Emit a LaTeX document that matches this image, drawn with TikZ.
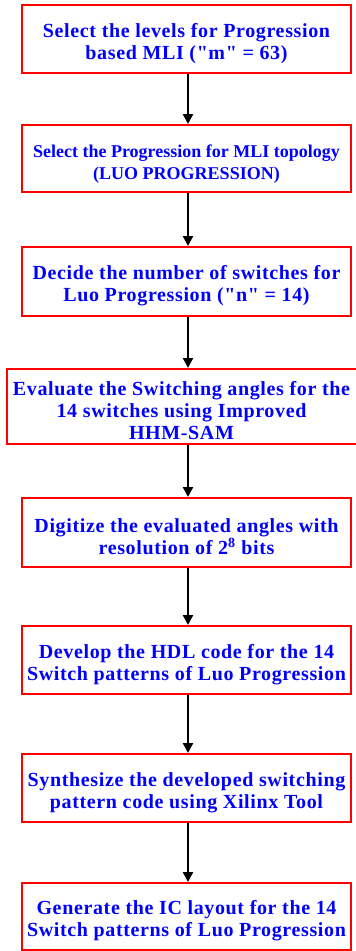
\documentclass[tikz,border=0pt]{standalone}
\usepackage{fontspec}
\setmainfont{Liberation Serif}
\newfontfamily\spfont[LetterSpace=3.2]{Liberation Serif}
\usetikzlibrary{arrows.meta}
\definecolor{boxred}{RGB}{255,0,0}
\definecolor{txtblue}{RGB}{0,0,255}
\newcommand\topstrut{\rule{0pt}{23pt}}
\begin{document}
\begin{tikzpicture}[x=1pt,y=-1pt,
  stepbox/.style={draw=boxred, line width=2pt, fill=white, minimum width=329pt,
    inner sep=0pt, align=center, text=txtblue,
    font=\spfont\bfseries\fontsize{20}{22}\selectfont},
  flow/.style={-{Triangle[length=10pt,width=10pt]}, line width=2.2pt, black}]
\useasboundingbox (0,0) rectangle (356,951);
\coordinate (ax) at (188,0);
\node[stepbox, minimum height=68pt] (b1) at (186.5,39) {\topstrut Select the levels for Progression\\based MLI ("m" = 63)};
\node[stepbox, minimum height=67pt, font=\bfseries\fontsize{18}{22}\selectfont] (b2) at (186.5,158.5) {\topstrut Select the Progression for MLI topology\\(LUO PROGRESSION)};
\node[stepbox, minimum height=69pt] (b3) at (186.5,281.5) {\topstrut Decide the number of switches for\\Luo Progression ("n" = 14)};
\node[stepbox, minimum height=75pt, minimum width=350pt] (b4) at (181.5,406.5) {\topstrut Evaluate the Switching angles for the\\14 switches using Improved\\HHM-SAM};
\node[stepbox, minimum height=69pt] (b5) at (186.5,532.5) {\topstrut Digitize the evaluated angles with\\resolution of 2\textsuperscript{8} bits};
\node[stepbox, minimum height=68pt] (b6) at (186.5,660) {\topstrut Develop the HDL code for the 14\\Switch patterns of Luo Progression};
\node[stepbox, minimum height=68pt] (b7) at (186.5,788) {\topstrut Synthesize the developed switching\\pattern code using Xilinx Tool};
\node[stepbox, minimum height=67pt] (b8) at (186.5,916.5) {\topstrut Generate the IC layout for the 14\\Switch patterns of Luo Progression};
\foreach \a/\b in {b1/b2,b2/b3,b3/b4,b4/b5,b5/b6,b6/b7,b7/b8}
  \draw[flow] (\a.south -| ax) -- (\b.north -| ax);
\end{tikzpicture}
\end{document}
